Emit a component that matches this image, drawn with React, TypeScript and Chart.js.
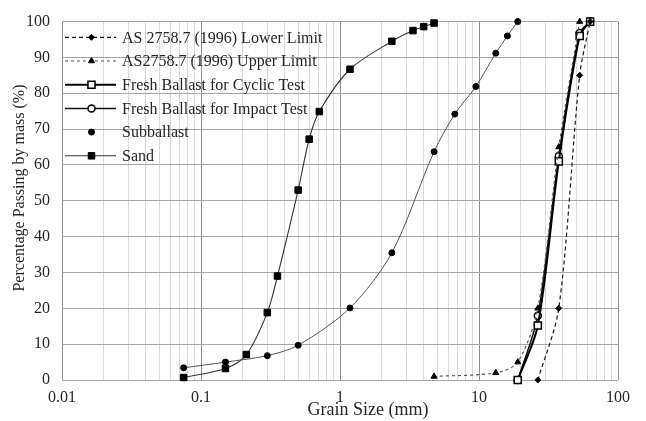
import React, { useEffect, useRef } from 'react';
import { Chart, registerables } from 'chart.js';

Chart.register(...registerables);

// ---- data (grain size in mm, percentage passing) ----
const upperSizes = [4.75, 13.2, 19, 26.5, 37.5, 53];
const upperPassing = [1, 2, 5, 20, 65, 100];
const lowerSizes = [26.5, 37.5, 53, 63];
const lowerPassing = [0, 20, 85, 100];
const ballastSizes = [19, 26.5, 37.5, 53, 63];
const cyclicPassing = [0, 15.2, 61, 96, 100];
const impactPassing = [0, 17.9, 62.5, 96.8, 100];
const subSizes = [0.075, 0.15, 0.3, 0.5, 1.18, 2.36, 4.75, 6.7, 9.5, 13.2, 16, 19];
const subPassing = [3.4, 5.0, 6.8, 9.7, 20.1, 35.5, 63.7, 74.2, 81.9, 91.2, 96, 100];
const sandSizes = [0.075, 0.15, 0.212, 0.3, 0.355, 0.5, 0.6, 0.71, 1.18, 2.36, 3.35, 4, 4.75];
const sandPassing = [0.7, 3.2, 7.1, 18.8, 29, 53, 67.2, 74.9, 86.7, 94.5, 97.5, 98.6, 99.6];

const seriesNames = [
  'AS 2758.7 (1996) Lower Limit',
  'AS2758.7 (1996) Upper Limit',
  'Fresh Ballast for Cyclic Test',
  'Fresh Ballast for Impact Test',
  'Subballast',
  'Sand',
];

const xDecades = [0.01, 0.1, 1, 10, 100];
const xTickLabels = ['0.01', '0.1', '1', '10', '100'];
const xTitle = 'Grain Size (mm)';
const yTitle = 'Percentage Passing by mass (%)';

const FONT = "'Liberation Serif', 'Times New Roman', serif";
const TEXT = '#262626';

const pts = (xs: number[], ys: number[]) => xs.map((x, i) => ({ x, y: ys[i] }));

const isDecade = (v: number) => {
  const l = Math.log10(v);
  return Math.abs(l - Math.round(l)) < 1e-6;
};

function drawMarker(ctx: CanvasRenderingContext2D, ds: any, x: number, y: number) {
  const r = ds.pointRadius;
  ctx.save();
  ctx.setLineDash([]);
  ctx.fillStyle = ds.pointBackgroundColor;
  ctx.strokeStyle = ds.pointBorderColor;
  ctx.lineWidth = ds.pointBorderWidth;
  ctx.beginPath();
  const s = ds.pointStyle;
  if (s === 'circle') {
    ctx.arc(x, y, r, 0, Math.PI * 2);
  } else if (s === 'rect') {
    const h = r * Math.SQRT1_2;
    ctx.rect(x - h, y - h, 2 * h, 2 * h);
  } else if (s === 'rectRot') {
    ctx.moveTo(x, y - r);
    ctx.lineTo(x + r, y);
    ctx.lineTo(x, y + r);
    ctx.lineTo(x - r, y);
    ctx.closePath();
  } else if (s === 'triangle') {
    ctx.moveTo(x, y - r);
    ctx.lineTo(x + r * 0.866, y + r * 0.5);
    ctx.lineTo(x - r * 0.866, y + r * 0.5);
    ctx.closePath();
  }
  ctx.fill();
  ctx.stroke();
  ctx.restore();
}

const insideLegend = {
  id: 'insideLegend',
  afterDraw(chart: any) {
    const { ctx, chartArea } = chart;
    ctx.save();
    chart.data.datasets.forEach((ds: any, i: number) => {
      const y = chartArea.top + 15.7 + i * 23.7;
      const x0 = chartArea.left + 3;
      const x1 = chartArea.left + 54;
      if (ds.legendLine !== false) {
        ctx.save();
        ctx.strokeStyle = ds.borderColor;
        ctx.lineWidth = ds.borderWidth;
        ctx.setLineDash(ds.borderDash || []);
        ctx.beginPath();
        ctx.moveTo(x0, y);
        ctx.lineTo(x1, y);
        ctx.stroke();
        ctx.restore();
      }
      drawMarker(ctx, ds, (x0 + x1) / 2 + 1, y);
      ctx.fillStyle = TEXT;
      ctx.font = `16px ${FONT}`;
      ctx.textAlign = 'left';
      ctx.textBaseline = 'middle';
      ctx.fillText(ds.label, chartArea.left + 60, y + 1);
    });
    // axis titles
    ctx.fillStyle = TEXT;
    ctx.font = `18px ${FONT}`;
    ctx.textAlign = 'center';
    ctx.textBaseline = 'middle';
    ctx.fillText(xTitle, 368, 410);
    ctx.save();
    ctx.translate(20, 188);
    ctx.rotate(-Math.PI / 2);
    ctx.font = `16px ${FONT}`;
    ctx.fillText(yTitle, 0, 0);
    ctx.restore();
    ctx.restore();
  },
};

export default function App() {
  const ref = useRef<HTMLCanvasElement | null>(null);

  useEffect(() => {
    if (!ref.current) return;
    const mk = (label: string, data: any[], o: any) => ({
      label,
      data,
      showLine: true,
      tension: 0.3,
      clip: false,
      fill: false,
      pointHoverRadius: o.pointRadius,
      ...o,
    });

    const datasets = [
      mk(seriesNames[0], pts(lowerSizes, lowerPassing), {
        borderColor: '#1a1a1a', borderWidth: 1.2, borderDash: [4, 3],
        pointStyle: 'rectRot', pointRadius: 3, pointBackgroundColor: '#000', pointBorderColor: '#000', pointBorderWidth: 1,
      }),
      mk(seriesNames[1], pts(upperSizes, upperPassing), {
        borderColor: '#555', borderWidth: 1.2, borderDash: [3, 3],
        pointStyle: 'triangle', pointRadius: 3.5, pointBackgroundColor: '#000', pointBorderColor: '#000', pointBorderWidth: 1,
      }),
      mk(seriesNames[2], pts(ballastSizes, cyclicPassing), {
        borderColor: '#000', borderWidth: 2,
        pointStyle: 'rect', pointRadius: 5, pointBackgroundColor: '#fff', pointBorderColor: '#000', pointBorderWidth: 1.5,
      }),
      mk(seriesNames[3], pts(ballastSizes, impactPassing), {
        borderColor: '#111', borderWidth: 1.5,
        pointStyle: 'circle', pointRadius: 3.5, pointBackgroundColor: '#fff', pointBorderColor: '#000', pointBorderWidth: 1.5,
      }),
      mk(seriesNames[4], pts(subSizes, subPassing), {
        borderColor: '#555', borderWidth: 1, legendLine: false,
        pointStyle: 'circle', pointRadius: 3, pointBackgroundColor: '#000', pointBorderColor: '#000', pointBorderWidth: 1,
      }),
      mk(seriesNames[5], pts(sandSizes, sandPassing), {
        borderColor: '#333', borderWidth: 1.1,
        pointStyle: 'rect', pointRadius: 4.6, pointBackgroundColor: '#000', pointBorderColor: '#000', pointBorderWidth: 1,
      }),
    ];

    const xGridValues: number[] = [];
    xDecades.slice(0, -1).forEach((d) => {
      for (let k = 1; k <= 9; k++) xGridValues.push(parseFloat((k * d).toPrecision(6)));
    });
    xGridValues.push(xDecades[xDecades.length - 1]);

    const chart = new Chart(ref.current, {
      type: 'scatter',
      data: { datasets } as any,
      options: {
        responsive: false,
        animation: false,
        events: [],
        layout: { padding: { top: 11, right: 28, left: 0, bottom: 0 } },
        plugins: { legend: { display: false }, tooltip: { enabled: false } },
        scales: {
          x: {
            type: 'logarithmic',
            min: 0.01,
            max: 100,
            afterBuildTicks: (scale: any) => {
              scale.ticks = xGridValues.map((v) => ({ value: v, major: isDecade(v) }));
            },
            afterFit: (scale: any) => {
              scale.height = 41;
            },
            grid: {
              drawTicks: false,
              color: (c: any) => (c.tick && isDecade(c.tick.value) ? '#8f8f8f' : '#d9d9d9'),
              lineWidth: 1,
            },
            border: { display: false },
            ticks: {
              autoSkip: false,
              maxRotation: 0,
              padding: 8,
              color: TEXT,
              font: { family: FONT, size: 16 },
              callback: (v: any) => {
                const idx = xDecades.findIndex((d) => Math.abs(d - Number(v)) < 1e-9);
                return idx >= 0 ? xTickLabels[idx] : '';
              },
            },
          },
          y: {
            min: 0,
            max: 100,
            afterFit: (scale: any) => {
              scale.width = 62;
            },
            grid: { drawTicks: false, color: '#a6a6a6', lineWidth: 1 },
            border: { display: false },
            ticks: {
              stepSize: 10,
              padding: 12,
              color: TEXT,
              font: { family: FONT, size: 16 },
            },
          },
        },
      },
      plugins: [insideLegend],
    } as any);

    return () => chart.destroy();
  }, []);

  return (
    <div style={{ position: 'fixed', left: 0, top: 0, width: 646, height: 421, background: '#fff' }}>
      <canvas ref={ref} width={646} height={421} style={{ display: 'block', width: 646, height: 421 }} />
    </div>
  );
}
